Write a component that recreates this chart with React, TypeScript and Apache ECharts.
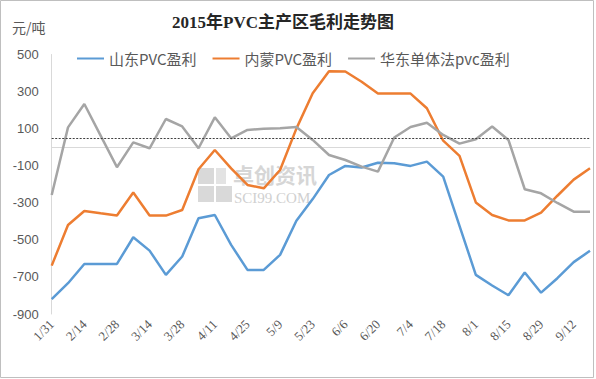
import React, { useEffect, useRef } from "react";
import * as echarts from "echarts";

const dates = ["1/31","2/7","2/14","2/21","2/28","3/7","3/14","3/21","3/28","4/4","4/11","4/18","4/25","5/2","5/9","5/16","5/23","5/30","6/6","6/13","6/20","6/27","7/4","7/11","7/18","7/25","8/1","8/8","8/15","8/22","8/29","9/5","9/12","9/19"];
const shandong = [-820, -734, -630, -630, -630, -486, -558, -689, -590, -383, -366, -527, -662, -662, -581, -397, -280, -150, -101, -110, -84, -87, -101, -78, -159, -424, -689, -746, -799, -676, -785, -707, -620, -559];
const neimeng = [-639, -420, -344, -357, -369, -245, -369, -369, -339, -119, -15, -114, -204, -222, -123, 100, 291, 410, 408, 353, 289, 289, 289, 210, 35, -47, -298, -366, -395, -395, -353, -262, -175, -114];
const huadong = [-258, 107, 233, 62, -108, 26, -6, 152, 112, -6, 161, 48, 93, 100, 102, 109, 39, -42, -69, -105, -132, 52, 109, 132, 66, 19, 43, 112, 39, -227, -249, -301, -348, -348];
const seriesNames = ["山东PVC盈利", "内蒙PVC盈利", "华东单体法pvc盈利"];
const refLine = 50;

export default function App() {
  const ref = useRef<HTMLDivElement>(null);
  useEffect(() => {
    if (!ref.current) return;
    const chart = echarts.init(ref.current, null, { renderer: "svg" });
    const cjk = "'Noto Sans CJK SC', sans-serif";
    const mk = (name: string, data: number[], color: string, extra: any = {}) => ({
      name,
      type: "line",
      data,
      symbol: "none",
      lineStyle: { color, width: 2.5 },
      itemStyle: { color },
      ...extra,
    });
    chart.setOption({
      animation: false,
      backgroundColor: "#ffffff",
      title: {
        text: "2015年PVC主产区毛利走势图",
        left: 278,
        top: 9,
        textAlign: "center",
        textStyle: { fontSize: 17, fontWeight: "bold", color: "#262626", fontFamily: "'Liberation Serif', 'Noto Sans CJK SC', serif" },
      },
      legend: {
        data: seriesNames,
        left: 72,
        top: 46,
        itemWidth: 27,
        itemHeight: 2,
        itemGap: 16,
        icon: "rect",
        textStyle: { fontSize: 15, color: "#595959", fontFamily: cjk },
      },
      grid: { left: 51.7, right: 6, top: 54.5, bottom: 65, containLabel: false, outerBoundsMode: "none" },
      xAxis: {
        type: "category",
        data: dates,
        boundaryGap: false,
        axisLine: { show: true, lineStyle: { color: "#d9d9d9", width: 1 } },
        axisTick: { show: false },
        axisLabel: {
          interval: 1,
          rotate: 45,
          margin: 8,
          fontSize: 13,
          color: "#595959",
          fontFamily: "'Liberation Serif', serif",
        },
        splitLine: { show: false },
      },
      yAxis: {
        type: "value",
        min: -900,
        max: 500,
        interval: 200,
        axisLine: { show: true, lineStyle: { color: "#d9d9d9", width: 1 } },
        axisTick: { show: false },
        splitLine: { show: false },
        axisLabel: { fontSize: 13, color: "#595959", margin: 13, fontFamily: "'Liberation Sans', sans-serif" },
      },
      graphic: [
        { type: "rect", z: 100, silent: true, shape: { x: 0.5, y: 0.5, width: 593, height: 377 }, style: { fill: "none", stroke: "#bfbfbf", lineWidth: 1 } },
        { type: "text", left: 12, top: 20, style: { text: "元/吨", fill: "#595959", font: "14px 'Noto Sans CJK SC', sans-serif" } },
        { type: "rect", z: 0, shape: { x: 198, y: 168, width: 16, height: 16 }, style: { fill: "#d9d9d9" } },
        { type: "rect", z: 0, shape: { x: 216, y: 168, width: 10, height: 16 }, style: { fill: "#e3e3e3" } },
        { type: "rect", z: 0, shape: { x: 198, y: 186, width: 16, height: 16 }, style: { fill: "#d9d9d9" } },
        { type: "rect", z: 0, shape: { x: 216, y: 186, width: 16, height: 16 }, style: { fill: "#d9d9d9" } },
        { type: "text", z: 0, x: 233, y: 163, style: { text: "卓创资讯", fill: "#d6d6d6", verticalAlign: "top", font: "bold 21px 'Noto Sans CJK SC', sans-serif" } },
        { type: "text", z: 0, x: 234, y: 190, style: { text: "SCI99.COM", fill: "#d0d0d0", verticalAlign: "top", font: "15px 'Liberation Serif', serif" } },
      ],
      series: [
        mk(seriesNames[0], shandong, "#5b9bd5"),
        mk(seriesNames[1], neimeng, "#ed7d31"),
        mk(seriesNames[2], huadong, "#a5a5a5", {
          markLine: {
            silent: true,
            symbol: ["none", "none"],
            label: { show: false },
            lineStyle: { color: "#404040", type: [2, 1.5], width: 1 },
            data: [{ yAxis: refLine }],
          },
        }),
      ],
    });
    return () => chart.dispose();
  }, []);
  return (
    <div
      ref={ref}
      style={{ position: "absolute", left: 0, top: 0, width: 596, height: 379, background: "#fff" }}
    />
  );
}
